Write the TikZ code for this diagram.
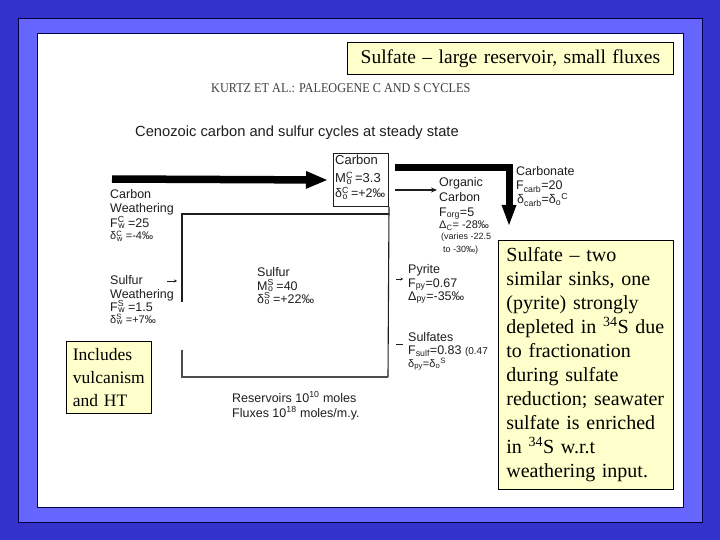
\documentclass[tikz,border=0pt]{standalone}
\usepackage{fontspec}
\setmainfont{Liberation Serif}
\newfontfamily\sansf{Liberation Sans}
\usetikzlibrary{arrows.meta}
\definecolor{bgblue}{HTML}{3333CC}
\definecolor{frameblue}{HTML}{6666FF}
\definecolor{navyline}{HTML}{000044}
\definecolor{noteyellow}{HTML}{FFFFCC}
\definecolor{scan}{HTML}{1E1E1E}
\newcommand\supsub[2]{\textsuperscript{\rlap{#1}}\textsubscript{#2}}
\begin{document}
\begin{tikzpicture}[x=1pt,y=-1pt,
  lbl/.style={anchor=base west, inner sep=0pt, text=scan, font=\sansf\fontsize{12.5}{14}\selectfont},
  sml/.style={lbl, font=\sansf\fontsize{11}{12}\selectfont},
  tiny/.style={lbl, font=\sansf\fontsize{9}{10}\selectfont},
  note/.style={draw=black, line width=0.8pt, fill=noteyellow, inner xsep=0pt, inner ysep=0pt, align=left},
  heavy/.style={line width=7.5pt, draw=black, line join=miter},
  fine/.style={line width=1.1pt, draw=scan},
]
\useasboundingbox (0,0) rectangle (720,540);
\fill[bgblue] (0,0) rectangle (720,540);
\filldraw[fill=frameblue, draw=navyline, line width=0.8pt] (18,18) rectangle (702,522);
\filldraw[fill=white, draw=navyline, line width=1pt] (37,34) rectangle (683,507);

% title note
\node[note, anchor=north west, minimum width=326, minimum height=32, text width=326, align=center,
      font=\fontsize{19.5}{24}\selectfont] (title) at (347,42) {Sulfate – large reservoir, small fluxes};

% scanned figure header
\node[anchor=base west, inner sep=0pt, text=scan!85, font=\fontsize{13.5}{15}\selectfont] (kurtz) at (211,93)
  {\scalebox{0.905}[1]{KURTZ ET AL.: PALEOGENE C AND S CYCLES}};
\node[lbl, font=\sansf\fontsize{14.7}{16}\selectfont] (head) at (135,137) {Cenozoic carbon and sulfur cycles at steady state};

% carbon reservoir box
\node[draw=scan, line width=1pt, minimum width=55, minimum height=53, anchor=north west, inner sep=0pt] (cbox) at (333,153) {};
\node[lbl, font=\sansf\fontsize{13}{14}\selectfont] (c1) at (335,165) {Carbon};
\node[lbl, font=\sansf\fontsize{13}{14}\selectfont] (c2) at (335,183) {M\supsub{C}{o}\kern3pt=3.3};
\node[lbl] (c3) at (335,198) {δ\supsub{C}{o}\kern3pt=+2‰};

% sulfur reservoir box
\draw[fine] (182,302) -- (182,214) -- (cbox.south east |- 0,214);
\draw[fine] (cbox.south east) -- (388,377);
\draw[fine, draw=scan!80] (182,350) -- (182,377) -- (388,377);

% big weathering arrow
\coordinate (wstart) at (112,179);
\draw[heavy, -{Triangle[length=22pt, width=16pt]}] (wstart) -- ([xshift=-5]cbox.west);

% carbonate arrow (shaft and explicit head)
\coordinate (cstart) at (395,168);
\coordinate (cbend) at (509,168);
\coordinate (cshaft) at (509,207);
\coordinate (hl) at (501.5,205);
\coordinate (hr) at (516.5,205);
\coordinate (carbtip) at (509,225);
\draw[heavy, line width=7pt] (cstart) -- (cbend) -- (cshaft);
\fill[black] (hl) -- (hr) -- (carbtip) -- cycle;

% organic arrow
\coordinate (ostart) at (395,190);
\coordinate (oend) at (437,190);
\draw[fine, line width=1.4pt, -{Stealth[length=6pt, width=5pt]}] (ostart) -- (oend);

% carbon weathering
\node[lbl] (cw1) at (110,199) {Carbon};
\node[lbl] (cw2) at (110,213) {Weathering};
\node[lbl] (cw3) at (110,227) {F\supsub{C}{w}\kern3pt=25};
\node[sml] (cw4) at (110,240) {δ\supsub{C}{w}\kern3pt=-4‰};

% organic carbon
\node[lbl] (oc1) at (439,187) {Organic};
\node[lbl] (oc2) at (439,202) {Carbon};
\node[lbl] (oc3) at (439,216) {F\textsubscript{org}=5};
\node[sml] (oc4) at (439,229) {Δ\textsubscript{C}= -28‰};
\node[tiny] (oc5) at (441,240) {(varies -22.5};
\node[tiny] (oc6) at (443,252) {to -30‰)};

% carbonate
\node[lbl] (cb1) at (516,176) {Carbonate};
\node[lbl] (cb2) at (516,190) {F\textsubscript{carb}=20};
\node[lbl] (cb3) at (517,204) {δ\textsubscript{carb}=δ\textsubscript{o}\textsuperscript{C}};

% sulfur weathering
\node[lbl] (sw1) at (110,284) {Sulfur};
\node[lbl] (sw2) at (110,298) {Weathering};
\node[lbl] (sw3) at (110,311) {F\supsub{S}{w}\kern3pt=1.5};
\node[sml] (sw4) at (110,323) {δ\supsub{S}{w}\kern3pt=+7‰};
\coordinate (swa) at (167,281);
\coordinate (swb) at (177,281);
\draw[fine, line width=1pt, -{Stealth[length=3pt, width=3pt]}] (swa) -- (swb);

% sulfur reservoir
\node[lbl] (s1) at (257,276) {Sulfur};
\node[lbl] (s2) at (257,290) {M\supsub{S}{o}\kern3pt=40};
\node[lbl] (s3) at (257,303) {δ\supsub{S}{o}\kern3pt=+22‰};

% pyrite
\coordinate (pya) at (396,279);
\coordinate (pyb) at (403,279);
\draw[fine, line width=1pt, -{Stealth[length=2.5pt, width=3pt]}] (pya) -- (pyb);
\node[lbl] (p1) at (408,273) {Pyrite};
\node[lbl] (p2) at (408,287) {F\textsubscript{py}=0.67};
\node[lbl] (p3) at (408,300) {Δ\textsubscript{py}=-35‰};

% sulfates
\coordinate (sua) at (396,344);
\coordinate (sub) at (403,344);
\draw[fine, line width=1pt] (sua) -- (sub);
\node[lbl] (su1) at (408,341) {Sulfates};
\node[lbl] (su2) at (408,354) {F\textsubscript{sulf}=0.83 {\fontsize{10}{11}\selectfont (0.47}};
\node[sml] (su3) at (408,367) {δ\textsubscript{py}=δ\textsubscript{o}\textsuperscript{S}};

% legend
\node[lbl] (r1) at (232,402) {Reservoirs 10\textsuperscript{10} moles};
\node[lbl] (r2) at (232,417) {Fluxes 10\textsuperscript{18} moles/m.y.};

% notes
\node[note, anchor=north west, minimum width=85, minimum height=72, text width=72,
      font=\fontsize{17.5}{23}\selectfont] (incl) at (66,341) {Includes\\vulcanism\\and HT};
\node[note, anchor=north west, minimum width=175, minimum height=249, text width=159,
      font=\fontsize{20}{24}\selectfont] (sinks) at (498,240)
  {Sulfate – two\\similar sinks, one\\(pyrite) strongly\\depleted in \textsuperscript{34}S due\\to fractionation\\during sulfate\\reduction; seawater\\sulfate is enriched\\in \textsuperscript{34}S w.r.t\\weathering input.};
\end{tikzpicture}
\end{document}
